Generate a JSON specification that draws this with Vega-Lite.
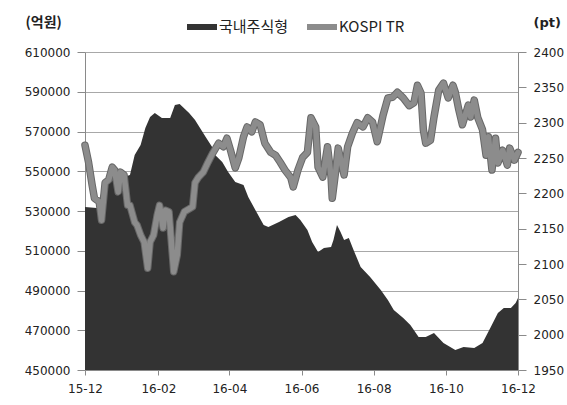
{
  "$schema": "https://vega.github.io/schema/vega-lite/v6.json",
  "width": 433,
  "height": 318,
  "autosize": {"type": "none"},
  "padding": {"left": 85, "top": 52, "right": 49, "bottom": 35},
  "background": "white",
  "config": {
    "font": "DejaVu Sans",
    "view": {"stroke": null},
    "axis": {"labelFont": "DejaVu Sans", "labelFontSize": 12, "labelColor": "#222222", "domainColor": "#8a8a8a", "tickColor": "#8a8a8a"}
  },
  "datasets": {
    "fund": [
      {"date": "2015-12-01T00:00:00", "value": 532000},
      {"date": "2015-12-11T00:00:00", "value": 531500},
      {"date": "2015-12-18T00:00:00", "value": 545600},
      {"date": "2015-12-31T00:00:00", "value": 546600},
      {"date": "2016-01-08T00:00:00", "value": 548100},
      {"date": "2016-01-12T00:00:00", "value": 558200},
      {"date": "2016-01-17T00:00:00", "value": 563200},
      {"date": "2016-01-21T00:00:00", "value": 571800},
      {"date": "2016-01-25T00:00:00", "value": 577300},
      {"date": "2016-01-29T00:00:00", "value": 579300},
      {"date": "2016-02-04T00:00:00", "value": 576800},
      {"date": "2016-02-11T00:00:00", "value": 576800},
      {"date": "2016-02-15T00:00:00", "value": 583300},
      {"date": "2016-02-19T00:00:00", "value": 583800},
      {"date": "2016-02-27T00:00:00", "value": 579300},
      {"date": "2016-03-03T00:00:00", "value": 575800},
      {"date": "2016-03-12T00:00:00", "value": 567200},
      {"date": "2016-03-18T00:00:00", "value": 561700},
      {"date": "2016-03-20T00:00:00", "value": 558200},
      {"date": "2016-03-26T00:00:00", "value": 554700},
      {"date": "2016-03-31T00:00:00", "value": 549600},
      {"date": "2016-04-06T00:00:00", "value": 544600},
      {"date": "2016-04-13T00:00:00", "value": 543100},
      {"date": "2016-04-17T00:00:00", "value": 537000},
      {"date": "2016-04-23T00:00:00", "value": 530500},
      {"date": "2016-04-30T00:00:00", "value": 523000},
      {"date": "2016-05-04T00:00:00", "value": 522000},
      {"date": "2016-05-13T00:00:00", "value": 524500},
      {"date": "2016-05-21T00:00:00", "value": 527000},
      {"date": "2016-05-27T00:00:00", "value": 528000},
      {"date": "2016-05-31T00:00:00", "value": 525500},
      {"date": "2016-06-06T00:00:00", "value": 520400},
      {"date": "2016-06-10T00:00:00", "value": 514400},
      {"date": "2016-06-15T00:00:00", "value": 509400},
      {"date": "2016-06-20T00:00:00", "value": 511400},
      {"date": "2016-06-26T00:00:00", "value": 511900},
      {"date": "2016-06-28T00:00:00", "value": 515400},
      {"date": "2016-07-01T00:00:00", "value": 523000},
      {"date": "2016-07-04T00:00:00", "value": 519400},
      {"date": "2016-07-07T00:00:00", "value": 515400},
      {"date": "2016-07-11T00:00:00", "value": 516400},
      {"date": "2016-07-15T00:00:00", "value": 510400},
      {"date": "2016-07-21T00:00:00", "value": 501800},
      {"date": "2016-07-29T00:00:00", "value": 496800},
      {"date": "2016-08-07T00:00:00", "value": 490300},
      {"date": "2016-08-13T00:00:00", "value": 485200},
      {"date": "2016-08-18T00:00:00", "value": 480200},
      {"date": "2016-08-26T00:00:00", "value": 476200},
      {"date": "2016-09-01T00:00:00", "value": 472600},
      {"date": "2016-09-08T00:00:00", "value": 466600},
      {"date": "2016-09-14T00:00:00", "value": 466600},
      {"date": "2016-09-21T00:00:00", "value": 468600},
      {"date": "2016-09-29T00:00:00", "value": 463600},
      {"date": "2016-10-09T00:00:00", "value": 460100},
      {"date": "2016-10-16T00:00:00", "value": 461600},
      {"date": "2016-10-25T00:00:00", "value": 461100},
      {"date": "2016-11-01T00:00:00", "value": 463600},
      {"date": "2016-11-08T00:00:00", "value": 471600},
      {"date": "2016-11-14T00:00:00", "value": 478700},
      {"date": "2016-11-19T00:00:00", "value": 481200},
      {"date": "2016-11-25T00:00:00", "value": 481200},
      {"date": "2016-11-29T00:00:00", "value": 483700},
      {"date": "2016-12-01T00:00:00", "value": 486200}
    ],
    "kospi": [
      {"date": "2015-12-01T00:00:00", "value": 2268},
      {"date": "2015-12-04T00:00:00", "value": 2244},
      {"date": "2015-12-07T00:00:00", "value": 2212},
      {"date": "2015-12-09T00:00:00", "value": 2193},
      {"date": "2015-12-13T00:00:00", "value": 2188},
      {"date": "2015-12-15T00:00:00", "value": 2162},
      {"date": "2015-12-18T00:00:00", "value": 2215},
      {"date": "2015-12-21T00:00:00", "value": 2219},
      {"date": "2015-12-24T00:00:00", "value": 2237},
      {"date": "2015-12-26T00:00:00", "value": 2233},
      {"date": "2015-12-29T00:00:00", "value": 2202},
      {"date": "2015-12-31T00:00:00", "value": 2230},
      {"date": "2016-01-03T00:00:00", "value": 2226},
      {"date": "2016-01-06T00:00:00", "value": 2183},
      {"date": "2016-01-08T00:00:00", "value": 2183},
      {"date": "2016-01-12T00:00:00", "value": 2159},
      {"date": "2016-01-14T00:00:00", "value": 2155},
      {"date": "2016-01-17T00:00:00", "value": 2141},
      {"date": "2016-01-20T00:00:00", "value": 2131},
      {"date": "2016-01-23T00:00:00", "value": 2094},
      {"date": "2016-01-25T00:00:00", "value": 2131},
      {"date": "2016-01-28T00:00:00", "value": 2141},
      {"date": "2016-01-31T00:00:00", "value": 2169},
      {"date": "2016-02-02T00:00:00", "value": 2183},
      {"date": "2016-02-05T00:00:00", "value": 2151},
      {"date": "2016-02-07T00:00:00", "value": 2176},
      {"date": "2016-02-10T00:00:00", "value": 2174},
      {"date": "2016-02-14T00:00:00", "value": 2089},
      {"date": "2016-02-17T00:00:00", "value": 2113},
      {"date": "2016-02-19T00:00:00", "value": 2159},
      {"date": "2016-02-23T00:00:00", "value": 2174},
      {"date": "2016-02-28T00:00:00", "value": 2179},
      {"date": "2016-03-01T00:00:00", "value": 2181},
      {"date": "2016-03-03T00:00:00", "value": 2215},
      {"date": "2016-03-06T00:00:00", "value": 2223},
      {"date": "2016-03-10T00:00:00", "value": 2230},
      {"date": "2016-03-14T00:00:00", "value": 2244},
      {"date": "2016-03-18T00:00:00", "value": 2257},
      {"date": "2016-03-23T00:00:00", "value": 2271},
      {"date": "2016-03-27T00:00:00", "value": 2266},
      {"date": "2016-03-30T00:00:00", "value": 2278},
      {"date": "2016-04-02T00:00:00", "value": 2261},
      {"date": "2016-04-06T00:00:00", "value": 2236},
      {"date": "2016-04-09T00:00:00", "value": 2250},
      {"date": "2016-04-13T00:00:00", "value": 2280},
      {"date": "2016-04-16T00:00:00", "value": 2294},
      {"date": "2016-04-20T00:00:00", "value": 2287},
      {"date": "2016-04-23T00:00:00", "value": 2301},
      {"date": "2016-04-27T00:00:00", "value": 2297},
      {"date": "2016-05-01T00:00:00", "value": 2271},
      {"date": "2016-05-06T00:00:00", "value": 2258},
      {"date": "2016-05-10T00:00:00", "value": 2254},
      {"date": "2016-05-14T00:00:00", "value": 2244},
      {"date": "2016-05-18T00:00:00", "value": 2233},
      {"date": "2016-05-23T00:00:00", "value": 2222},
      {"date": "2016-05-25T00:00:00", "value": 2209},
      {"date": "2016-05-29T00:00:00", "value": 2233},
      {"date": "2016-06-02T00:00:00", "value": 2251},
      {"date": "2016-06-06T00:00:00", "value": 2258},
      {"date": "2016-06-09T00:00:00", "value": 2307},
      {"date": "2016-06-13T00:00:00", "value": 2294},
      {"date": "2016-06-15T00:00:00", "value": 2237},
      {"date": "2016-06-19T00:00:00", "value": 2223},
      {"date": "2016-06-23T00:00:00", "value": 2266},
      {"date": "2016-06-26T00:00:00", "value": 2223},
      {"date": "2016-06-27T00:00:00", "value": 2193},
      {"date": "2016-06-30T00:00:00", "value": 2233},
      {"date": "2016-07-02T00:00:00", "value": 2264},
      {"date": "2016-07-07T00:00:00", "value": 2226},
      {"date": "2016-07-10T00:00:00", "value": 2266},
      {"date": "2016-07-14T00:00:00", "value": 2285},
      {"date": "2016-07-18T00:00:00", "value": 2300},
      {"date": "2016-07-23T00:00:00", "value": 2294},
      {"date": "2016-07-27T00:00:00", "value": 2307},
      {"date": "2016-07-31T00:00:00", "value": 2301},
      {"date": "2016-08-04T00:00:00", "value": 2273},
      {"date": "2016-08-09T00:00:00", "value": 2311},
      {"date": "2016-08-13T00:00:00", "value": 2335},
      {"date": "2016-08-17T00:00:00", "value": 2336},
      {"date": "2016-08-21T00:00:00", "value": 2343},
      {"date": "2016-08-26T00:00:00", "value": 2335},
      {"date": "2016-08-31T00:00:00", "value": 2324},
      {"date": "2016-09-04T00:00:00", "value": 2328},
      {"date": "2016-09-07T00:00:00", "value": 2353},
      {"date": "2016-09-10T00:00:00", "value": 2342},
      {"date": "2016-09-12T00:00:00", "value": 2290},
      {"date": "2016-09-14T00:00:00", "value": 2271},
      {"date": "2016-09-18T00:00:00", "value": 2275},
      {"date": "2016-09-21T00:00:00", "value": 2308},
      {"date": "2016-09-25T00:00:00", "value": 2346},
      {"date": "2016-09-29T00:00:00", "value": 2356},
      {"date": "2016-10-03T00:00:00", "value": 2335},
      {"date": "2016-10-07T00:00:00", "value": 2353},
      {"date": "2016-10-09T00:00:00", "value": 2343},
      {"date": "2016-10-12T00:00:00", "value": 2318},
      {"date": "2016-10-15T00:00:00", "value": 2297},
      {"date": "2016-10-20T00:00:00", "value": 2325},
      {"date": "2016-10-22T00:00:00", "value": 2308},
      {"date": "2016-10-25T00:00:00", "value": 2332},
      {"date": "2016-10-28T00:00:00", "value": 2307},
      {"date": "2016-11-01T00:00:00", "value": 2290},
      {"date": "2016-11-04T00:00:00", "value": 2254},
      {"date": "2016-11-06T00:00:00", "value": 2280},
      {"date": "2016-11-09T00:00:00", "value": 2233},
      {"date": "2016-11-12T00:00:00", "value": 2278},
      {"date": "2016-11-14T00:00:00", "value": 2243},
      {"date": "2016-11-18T00:00:00", "value": 2261},
      {"date": "2016-11-22T00:00:00", "value": 2240},
      {"date": "2016-11-24T00:00:00", "value": 2264},
      {"date": "2016-11-28T00:00:00", "value": 2247},
      {"date": "2016-12-01T00:00:00", "value": 2258}
    ]
  },
  "layer": [
    {
      "data": {"name": "fund"},
      "mark": {"type": "area", "color": "#343434", "interpolate": "linear", "clip": true},
      "encoding": {
        "x": {
          "field": "date", "type": "temporal",
          "scale": {"domain": [{"year": 2015, "month": 12, "date": 1}, {"year": 2016, "month": 12, "date": 1}]},
          "axis": {
            "title": null, "format": "%y-%m",
            "values": [
              {"year": 2015, "month": 12, "date": 1},
              {"year": 2016, "month": 2, "date": 1},
              {"year": 2016, "month": 4, "date": 1},
              {"year": 2016, "month": 6, "date": 1},
              {"year": 2016, "month": 8, "date": 1},
              {"year": 2016, "month": 10, "date": 1},
              {"year": 2016, "month": 12, "date": 1}
            ],
            "grid": false, "tickSize": 5, "labelPadding": 8, "labelFlush": false, "labelOverlap": false, "zindex": 1
          }
        },
        "y": {
          "field": "value", "type": "quantitative",
          "scale": {"domain": [450000, 610000], "zero": false, "nice": false},
          "axis": {
            "orient": "left", "values": [450000, 470000, 490000, 510000, 530000, 550000, 570000, 590000, 610000],
            "format": "d", "grid": true, "gridColor": "#a8a8a8", "gridWidth": 1, "tickSize": 8, "labelPadding": 7,
            "title": "(억원)", "titleAngle": 0, "titleX": -60, "titleY": -30, "titleAlign": "left", "titleBaseline": "middle",
            "titleFont": "Noto Sans CJK KR", "titleFontSize": 14, "titleFontWeight": "bold", "titleColor": "#222222"
          }
        },
        "color": {
          "datum": "국내주식형",
          "scale": {"domain": ["국내주식형", "KOSPI TR"], "range": ["#333333", "#8c8c8c"]},
          "legend": {
            "title": null, "orient": "none", "direction": "horizontal", "legendX": 102, "legendY": -40,
            "symbolType": "M-1,-0.2H1V0.2H-1Z", "symbolSize": 900, "symbolStrokeWidth": 0,
            "labelFont": "Noto Sans CJK KR", "labelFontSize": 15, "labelColor": "#222222", "labelOffset": 2, "columnPadding": 18,
            "encode": {"symbols": {"update": {"fill": {"scale": "color", "field": "value"}, "stroke": {"value": "transparent"}}}}
          }
        }
      }
    },
    {
      "data": {"name": "kospi"},
      "mark": {"type": "line", "color": "#686868", "strokeWidth": 7.5, "strokeJoin": "round", "strokeCap": "round"},
      "encoding": {
        "x": {"field": "date", "type": "temporal"},
        "y": {
          "field": "value", "type": "quantitative",
          "scale": {"domain": [1950, 2400], "zero": false, "nice": false},
          "axis": null
        }
      }
    },
    {
      "data": {"name": "kospi"},
      "mark": {"type": "line", "strokeWidth": 5.5, "strokeJoin": "round", "strokeCap": "round"},
      "encoding": {
        "x": {"field": "date", "type": "temporal"},
        "y": {
          "field": "value", "type": "quantitative",
          "scale": {"domain": [1950, 2400], "zero": false, "nice": false},
          "axis": {
            "orient": "right", "values": [1950, 2000, 2050, 2100, 2150, 2200, 2250, 2300, 2350, 2400],
            "format": "d", "grid": false, "tickSize": 8, "labelPadding": 7,
            "title": "(pt)", "titleAngle": 0, "titleX": 15, "titleY": -30, "titleAlign": "left", "titleBaseline": "middle",
            "titleFont": "DejaVu Sans", "titleFontSize": 13, "titleFontWeight": "bold", "titleColor": "#222222"
          }
        },
        "color": {"datum": "KOSPI TR"}
      }
    }
  ],
  "resolve": {"scale": {"y": "independent"}}
}
